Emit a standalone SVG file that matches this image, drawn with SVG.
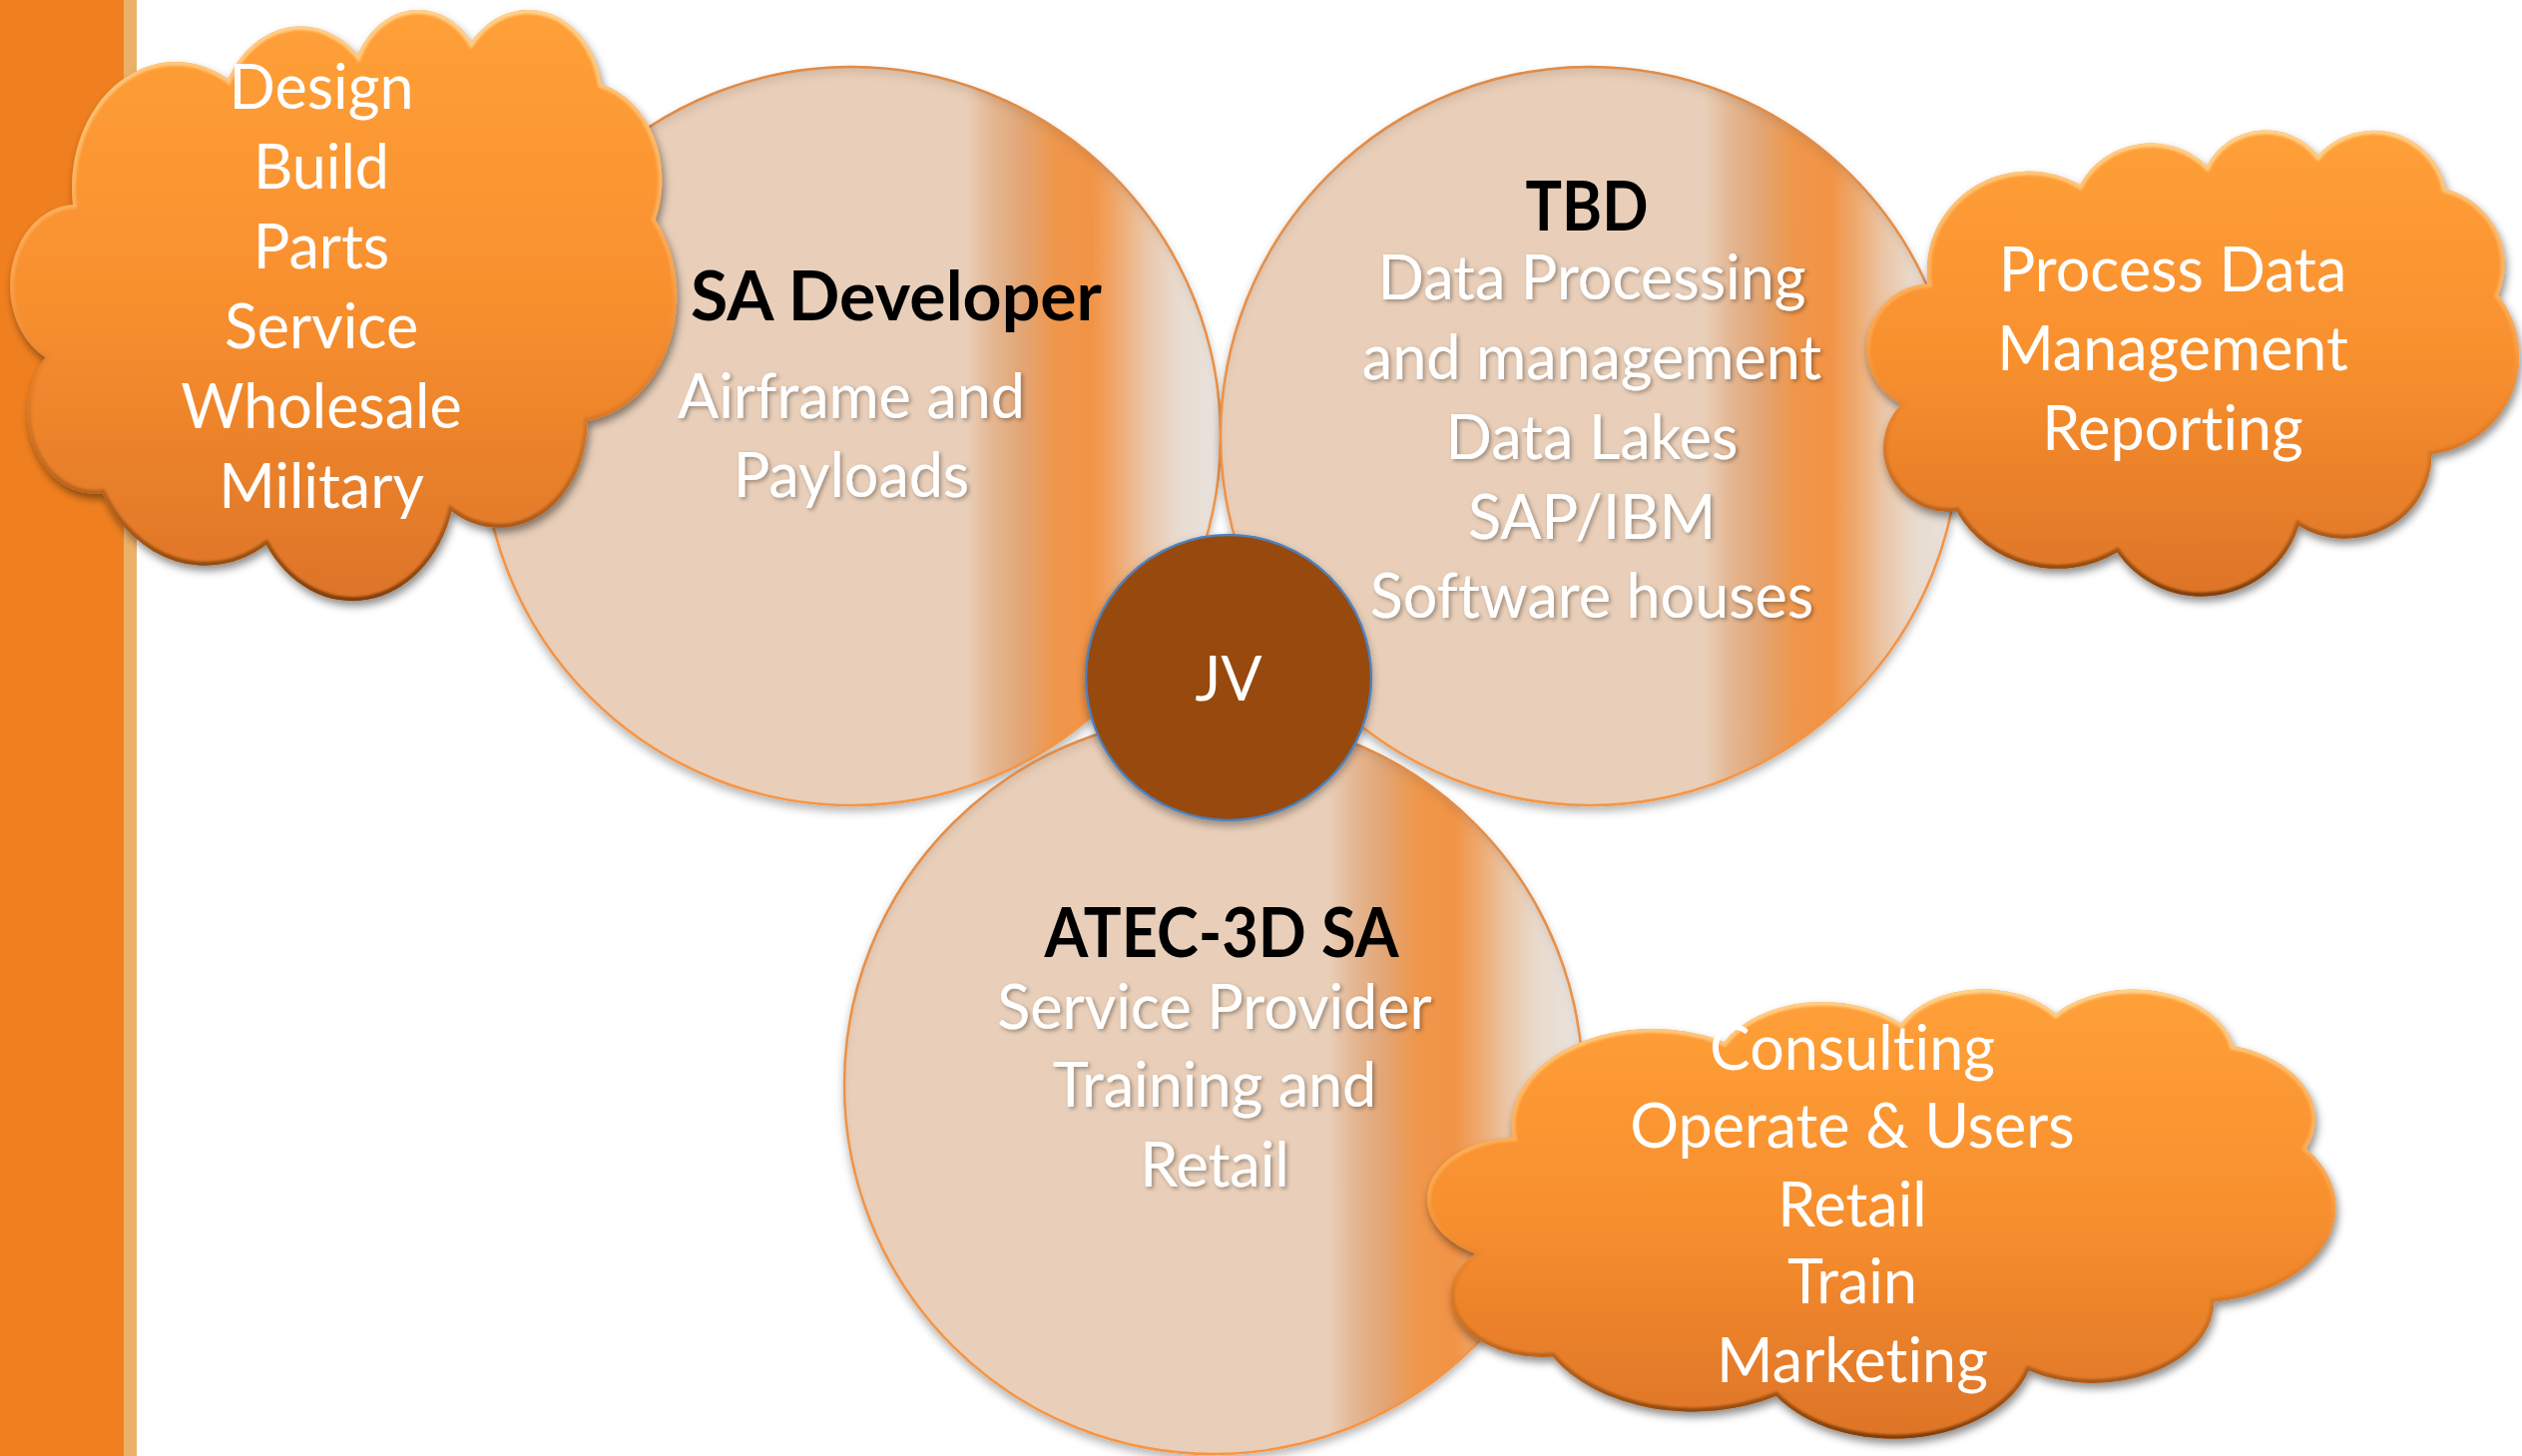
<svg xmlns="http://www.w3.org/2000/svg" width="2527" height="1459" viewBox="0 0 2527 1459">
  <style>
    text { font-variant-ligatures: none; font-feature-settings: "liga" 0, "clig" 0; }
    .body { font-family: Lato, "Liberation Sans", sans-serif; font-size: 61px; fill: #FFFFFF; text-anchor: middle; }
    .glow { filter: url(#textShadow); }
    .title { font-family: Lato, "Liberation Sans", sans-serif; font-weight: 700; font-size: 68px; fill: #000000; text-anchor: middle; }
    .disc { fill: url(#discFill); stroke: #F79646; stroke-width: 2.5; filter: url(#discFx); }
    .cloud-fill { fill: url(#cloudFill); filter: url(#cloudShadow); }
    .cloud-edge { fill: none; stroke: url(#cloudEdge); stroke-width: 8; filter: url(#soft); }
  </style>
  <defs>
    <linearGradient id="discFill" x1="0" y1="0" x2="1" y2="0">
      <stop offset="0" stop-color="#E9CFB9"/>
      <stop offset="0.655" stop-color="#E9CFB9"/>
      <stop offset="0.69" stop-color="#E4B793"/>
      <stop offset="0.73" stop-color="#E2A676"/>
      <stop offset="0.775" stop-color="#EF974C"/>
      <stop offset="0.825" stop-color="#F29345"/>
      <stop offset="0.86" stop-color="#EFA96E"/>
      <stop offset="0.895" stop-color="#EBC4A3"/>
      <stop offset="0.935" stop-color="#E9D9CB"/>
      <stop offset="1" stop-color="#E8E4E0"/>
    </linearGradient>
    <linearGradient id="cloudFill" x1="0" y1="0" x2="0" y2="1">
      <stop offset="0" stop-color="#FFA038"/>
      <stop offset="0.5" stop-color="#F88F2E"/>
      <stop offset="1" stop-color="#DD7428"/>
    </linearGradient>
    <linearGradient id="cloudEdge" x1="0" y1="0" x2="0" y2="1">
      <stop offset="0" stop-color="#FFD28C"/>
      <stop offset="0.45" stop-color="#FCB060" stop-opacity="0.6"/>
      <stop offset="0.6" stop-color="#E07F2C" stop-opacity="0.5"/>
      <stop offset="1" stop-color="#7E3E0C"/>
    </linearGradient>

    <filter id="discFx" x="-10%" y="-10%" width="120%" height="125%">
      <feGaussianBlur in="SourceAlpha" stdDeviation="4" result="b"/>
      <feOffset in="b" dy="5" result="ob"/>
      <feFlood flood-color="#000000" flood-opacity="0.28"/>
      <feComposite in2="ob" operator="in" result="drop"/>
      <feOffset in="SourceAlpha" dy="7" result="sa"/>
      <feGaussianBlur in="sa" stdDeviation="5" result="sab"/>
      <feComposite in="SourceAlpha" in2="sab" operator="out" result="rim"/>
      <feFlood flood-color="#8A6A50" flood-opacity="0.3"/>
      <feComposite in2="rim" operator="in" result="inner"/>
      <feMerge>
        <feMergeNode in="drop"/>
        <feMergeNode in="SourceGraphic"/>
        <feMergeNode in="inner"/>
      </feMerge>
    </filter>
    <filter id="cloudShadow" x="-10%" y="-10%" width="125%" height="130%">
      <feDropShadow dx="2" dy="5" stdDeviation="4" flood-color="#000000" flood-opacity="0.45"/>
    </filter>
    <filter id="soft">
      <feGaussianBlur stdDeviation="1.2"/>
    </filter>
    <filter id="textShadow" x="-5%" y="-25%" width="110%" height="150%">
      <feDropShadow dx="2" dy="2" stdDeviation="2" flood-color="#000000" flood-opacity="0.35"/>
    </filter>
    <filter id="jvShadow" x="-10%" y="-10%" width="120%" height="125%">
      <feDropShadow dx="0" dy="4" stdDeviation="4" flood-color="#000000" flood-opacity="0.35"/>
    </filter>

    <!-- cloud outlines: eleven elliptical lobes each -->
    <path id="cloudA" d="M73.0,204.9 A103.95,125.94 0 0 1 228.6,79.3 A82.09,99.59 0 0 1 358.7,55.0 A67.19,81.47 0 0 1 472.2,42.0 A74.77,90.37 0 0 1 602.9,84.4 A82.09,99.67 0 0 1 656.7,219.9 A104.29,126.35 0 0 1 588.8,421.9 A89.05,107.81 0 0 1 452.6,512.5 A103.94,126.28 0 0 1 266.7,546.1 A118.84,144.48 0 0 1 102.3,494.1 A67.12,81.10 0 0 1 45.5,358.1 A66.89,81.47 0 0 1 73.0,204.9 Z"/>
    <path id="cloudB" d="M1931.8,284.3 A101.76,99.34 0 0 1 2084.0,185.2 A80.37,78.56 0 0 1 2211.4,166.1 A65.78,64.27 0 0 1 2322.6,155.8 A73.19,71.29 0 0 1 2450.4,189.3 A80.37,78.62 0 0 1 2503.2,296.1 A102.10,99.67 0 0 1 2436.7,455.5 A87.18,85.05 0 0 1 2303.3,526.9 A101.75,99.62 0 0 1 2121.4,553.5 A116.33,113.97 0 0 1 1960.4,512.5 A65.71,63.97 0 0 1 1904.8,405.2 A65.48,64.27 0 0 1 1931.8,284.3 Z"/>
    <path id="cloudC" d="M1515.8,1139.7 A141.63,95.73 0 0 1 1727.7,1044.2 A111.85,75.70 0 0 1 1904.9,1025.7 A91.54,61.93 0 0 1 2059.7,1015.8 A101.86,68.70 0 0 1 2237.6,1048.1 A111.85,75.76 0 0 1 2311.0,1151.0 A142.09,96.04 0 0 1 2218.4,1304.6 A121.32,81.95 0 0 1 2032.9,1373.5 A141.61,95.99 0 0 1 1779.6,1399.0 A161.90,109.82 0 0 1 1555.7,1359.5 A91.44,61.65 0 0 1 1478.3,1256.2 A91.13,61.93 0 0 1 1515.8,1139.7 Z"/>
    <clipPath id="clipA"><use href="#cloudA"/></clipPath>
    <clipPath id="clipB"><use href="#cloudB"/></clipPath>
    <clipPath id="clipC"><use href="#cloudC"/></clipPath>
  </defs>

  <rect width="2527" height="1459" fill="#FFFFFF"/>

  <!-- side band -->
  <g id="side-band">
    <rect x="0" y="0" width="124" height="1459" fill="#F0801F"/>
    <rect x="124" y="0" width="13" height="1459" fill="#EBB16B"/>
  </g>

  <!-- no connectors in this layout -->
  <g id="connectors"/>

  <g id="sa-developer">
    <circle class="disc" cx="853" cy="437" r="370"/>
    <text class="title" x="898" y="321" textLength="412" lengthAdjust="spacingAndGlyphs">SA Developer</text>
    <g class="glow">
      <text class="body" x="853" y="419">Airframe and</text>
      <text class="body" x="853" y="498">Payloads</text>
    </g>
  </g>

  <g id="tbd">
    <circle class="disc" cx="1593" cy="437" r="370"/>
    <text class="title" x="1590" y="231" textLength="123" lengthAdjust="spacingAndGlyphs">TBD</text>
    <g class="glow">
      <text class="body" x="1595" y="300">Data Processing</text>
      <text class="body" x="1595" y="380">and management</text>
      <text class="body" x="1595" y="460">Data Lakes</text>
      <text class="body" x="1595" y="540">SAP/IBM</text>
      <text class="body" x="1595" y="619">Software houses</text>
    </g>
  </g>

  <g id="atec-3d-sa">
    <circle class="disc" cx="1216" cy="1087" r="370"/>
    <text class="title" x="1224" y="959" textLength="355" lengthAdjust="spacingAndGlyphs">ATEC-3D SA</text>
    <g class="glow">
      <text class="body" x="1217" y="1031">Service Provider</text>
      <text class="body" x="1217" y="1109">Training and</text>
      <text class="body" x="1217" y="1189">Retail</text>
    </g>
  </g>

  <g id="cloud-developer">
    <use href="#cloudA" class="cloud-fill"/>
    <g clip-path="url(#clipA)"><use href="#cloudA" class="cloud-edge"/></g>
    <text class="body" x="322" y="109">Design</text>
    <text class="body" x="322" y="189">Build</text>
    <text class="body" x="322" y="269">Parts</text>
    <text class="body" x="322" y="349">Service</text>
    <text class="body" x="322" y="429">Wholesale</text>
    <text class="body" x="322" y="509">Military</text>
  </g>

  <g id="cloud-data">
    <use href="#cloudB" class="cloud-fill"/>
    <g clip-path="url(#clipB)"><use href="#cloudB" class="cloud-edge"/></g>
    <text class="body" x="2177" y="292">Process Data</text>
    <text class="body" x="2177" y="371">Management</text>
    <text class="body" x="2177" y="451">Reporting</text>
  </g>

  <g id="cloud-services">
    <use href="#cloudC" class="cloud-fill"/>
    <g clip-path="url(#clipC)"><use href="#cloudC" class="cloud-edge"/></g>
    <text class="body" x="1856" y="1072">Consulting</text>
    <text class="body" x="1856" y="1150">Operate &amp; Users</text>
    <text class="body" x="1856" y="1229">Retail</text>
    <text class="body" x="1856" y="1306">Train</text>
    <text class="body" x="1856" y="1385">Marketing</text>
  </g>

  <g id="jv">
    <circle cx="1231" cy="679" r="143" fill="#984807" stroke="#4F81BD" stroke-width="2.5" filter="url(#jvShadow)"/>
    <text class="body" x="1231" y="702">JV</text>
  </g>
</svg>
